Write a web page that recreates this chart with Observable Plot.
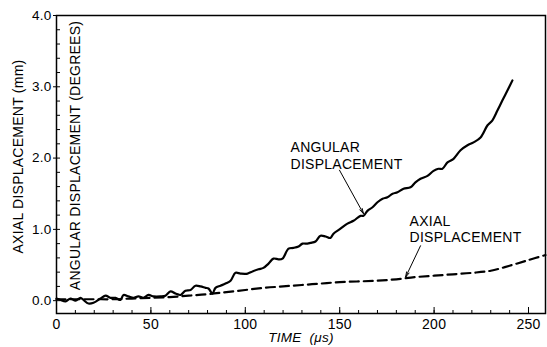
<!DOCTYPE html>
<html><head><meta charset="utf-8">
<script src="https://cdn.jsdelivr.net/npm/d3@7"></script>
<script src="https://cdn.jsdelivr.net/npm/@observablehq/plot@0.6"></script>
<style>
body{margin:0;background:#fff}
svg{font-family:"Liberation Sans",Arial,Helvetica,sans-serif}
</style>
</head><body><div id="chart"></div>
<script>
// Angular displacement (degrees) vs time (µs) — solid line
const angularTime = [0,2.1,4.8,7.4,10.1,12.7,14.3,16.9,19.6,23.3,26.0,28.6,31.3,33.9,35.5,38.1,40.8,43.4,46.1,48.7,51.4,55.1,57.7,60.4,63.0,65.7,68.3,71.0,73.6,76.3,78.9,80.5,82.6,84.2,86.9,89.5,92.2,94.8,97.5,101.2,103.8,107.0,109.6,112.3,114.9,117.6,119.7,122.9,125.5,128.2,130.3,132.9,134.5,137.2,139.8,142.5,145.1,146.7,150.4,154.1,157.3,161.0,162.6,164.7,167.4,170.0,172.7,175.3,178.0,180.6,183.8,187.5,190.1,192.8,196.5,199.7,202.3,204.4,207.1,210.3,214.0,217.7,220.9,224.6,228.3,230.9,233.6,236.2,238.9,241.5];
const angularDeg = [0.03,0.01,-0.01,0.03,0.00,0.04,0.01,-0.04,-0.03,0.03,0.07,0.04,0.04,0.01,0.08,0.06,0.04,0.06,0.04,0.08,0.06,0.06,0.07,0.13,0.10,0.08,0.14,0.15,0.21,0.20,0.18,0.17,0.10,0.18,0.21,0.24,0.28,0.39,0.38,0.38,0.41,0.44,0.46,0.52,0.59,0.58,0.59,0.73,0.74,0.76,0.80,0.80,0.81,0.83,0.91,0.90,0.88,0.94,1.01,1.08,1.12,1.19,1.19,1.26,1.31,1.38,1.43,1.45,1.50,1.52,1.57,1.59,1.66,1.71,1.75,1.82,1.85,1.85,1.94,1.99,2.11,2.18,2.22,2.29,2.46,2.53,2.67,2.81,2.95,3.09];

// Axial displacement (mm) vs time (µs) — dashed line
const axialTime = [0,10,20,30,40,50,60,70,80,90,100,110,120,130,140,150,160,170,180,190,200,210,220,230,240,250,259];
const axialMm = [0.02,0.02,0.02,0.02,0.03,0.04,0.05,0.07,0.09,0.12,0.15,0.18,0.20,0.22,0.24,0.26,0.27,0.28,0.30,0.33,0.35,0.37,0.39,0.42,0.49,0.57,0.64];

// Axis ticks
const xMajorTicks = [0,50,100,150,200,250];
const xMinorTicks = d3.range(0, 260, 10);
const yMajorTicks = [0,1,2,3,4];
const yMinorTicks = d3.range(0, 4.01, 0.2);

// Texts
const xLabel = "TIME  (μs)";
const yLabelAxial = "AXIAL DISPLACEMENT (mm)";
const yLabelAngular = "ANGULAR DISPLACEMENT (DEGREES)";

// Annotations (data units)
const annLabels = ["ANGULAR\nDISPLACEMENT", "AXIAL\nDISPLACEMENT"];
const annX = [124, 187];
const annY = [2.25, 1.22];
const arrowX1 = [149.9, 192.8];
const arrowY1 = [1.83, 0.77];
const arrowX2 = [162.6, 184.9];
const arrowY2 = [1.22, 0.33];

const angular = angularTime.map((t, i) => ({t, v: angularDeg[i]}));
const axial = axialTime.map((t, i) => ({t, v: axialMm[i]}));
const anns = annLabels.map((label, i) => ({label, x: annX[i], y: annY[i]}));
const arrows = arrowX1.map((x1, i) => ({x1, y1: arrowY1[i], x2: arrowX2[i], y2: arrowY2[i]}));

const chart = Plot.plot({
  width: 547,
  height: 347,
  marginLeft: 56,
  marginRight: 2,
  marginTop: 15,
  marginBottom: 34,
  style: {fontFamily: '"Liberation Sans", Arial, sans-serif', fontSize: "13px", color: "#000", background: "#fff"},
  x: {domain: [0, 259]},
  y: {domain: [-0.18, 4.0]},
  marks: [
    Plot.frame({stroke: "#000", strokeWidth: 1.5}),
    Plot.axisX(xMinorTicks, {tickSize: -3, tickFormat: () => "", strokeWidth: 1}),
    Plot.axisX(xMajorTicks, {tickSize: -6, tickFormat: () => "", strokeWidth: 1}),
    Plot.axisX(xMajorTicks, {tickSize: 0, tickPadding: 6, tickFormat: d => String(d), fontSize: 14, label: null}),
    Plot.axisY(yMinorTicks, {tickSize: -4, tickFormat: () => "", strokeWidth: 1}),
    Plot.axisY(yMajorTicks, {tickSize: 3, tickPadding: 2, tickFormat: d => d.toFixed(1), fontSize: 13.5, label: null}),
    Plot.line(axial, {x: "t", y: "v", stroke: "#000", strokeWidth: 2.2, strokeDasharray: "9,5", curve: "catmull-rom"}),
    Plot.line(angular, {x: "t", y: "v", stroke: "#000", strokeWidth: 2.2, strokeLinejoin: "round", curve: "catmull-rom"}),
    Plot.arrow(arrows, {x1: "x1", y1: "y1", x2: "x2", y2: "y2", stroke: "#000", strokeWidth: 1, headLength: 8, headAngle: 30}),
    Plot.text(anns, {x: "x", y: "y", text: "label", textAnchor: "start", lineAnchor: "top", lineHeight: 1.2, fontSize: 14, fill: "#000"}),
    Plot.text([xLabel], {text: d => d, frameAnchor: "bottom", textAnchor: "middle", dy: 28, fontSize: 13.5, fontStyle: "italic", fill: "#000"}),
    Plot.text([yLabelAxial], {text: d => d, frameAnchor: "left", textAnchor: "middle", rotate: -90, dx: -38, dy: -8, fontSize: 14, fill: "#000"}),
    Plot.text([yLabelAngular], {text: d => d, frameAnchor: "left", textAnchor: "middle", rotate: -90, dx: 19, dy: -9, fontSize: 14, fill: "#000"})
  ]
});
chart.querySelectorAll("text").forEach(t => t.setAttribute("letter-spacing", "0.25"));
document.getElementById("chart").append(chart);
</script>
</body></html>
